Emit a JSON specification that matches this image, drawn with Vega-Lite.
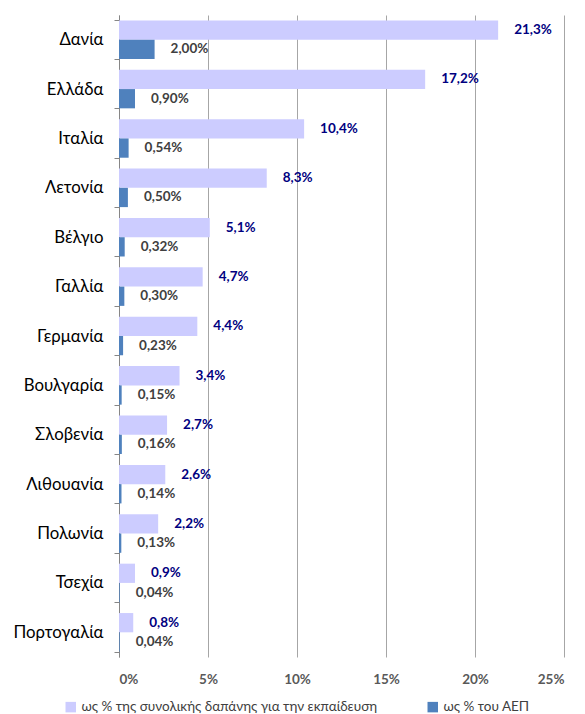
{
  "$schema": "https://vega.github.io/schema/vega-lite/v6.json",
  "width": 445,
  "height": 642,
  "padding": {"left": 13, "top": 7, "right": 19, "bottom": 5},
  "background": "white",
  "config": {
    "font": "Lato",
    "view": {"stroke": null},
    "locale": {"number": {"decimal": ",", "thousands": ".", "grouping": [3], "currency": ["", " €"]}}
  },
  "data": {"values": [
    {"country": "Δανία", "series": "ως % της συνολικής δαπάνης για την εκπαίδευση", "value": 0.213},
    {"country": "Δανία", "series": "ως % του ΑΕΠ", "value": 0.020},
    {"country": "Ελλάδα", "series": "ως % της συνολικής δαπάνης για την εκπαίδευση", "value": 0.172},
    {"country": "Ελλάδα", "series": "ως % του ΑΕΠ", "value": 0.0090},
    {"country": "Ιταλία", "series": "ως % της συνολικής δαπάνης για την εκπαίδευση", "value": 0.104},
    {"country": "Ιταλία", "series": "ως % του ΑΕΠ", "value": 0.0054},
    {"country": "Λετονία", "series": "ως % της συνολικής δαπάνης για την εκπαίδευση", "value": 0.083},
    {"country": "Λετονία", "series": "ως % του ΑΕΠ", "value": 0.0050},
    {"country": "Βέλγιο", "series": "ως % της συνολικής δαπάνης για την εκπαίδευση", "value": 0.051},
    {"country": "Βέλγιο", "series": "ως % του ΑΕΠ", "value": 0.0032},
    {"country": "Γαλλία", "series": "ως % της συνολικής δαπάνης για την εκπαίδευση", "value": 0.047},
    {"country": "Γαλλία", "series": "ως % του ΑΕΠ", "value": 0.0030},
    {"country": "Γερμανία", "series": "ως % της συνολικής δαπάνης για την εκπαίδευση", "value": 0.044},
    {"country": "Γερμανία", "series": "ως % του ΑΕΠ", "value": 0.0023},
    {"country": "Βουλγαρία", "series": "ως % της συνολικής δαπάνης για την εκπαίδευση", "value": 0.034},
    {"country": "Βουλγαρία", "series": "ως % του ΑΕΠ", "value": 0.0015},
    {"country": "Σλοβενία", "series": "ως % της συνολικής δαπάνης για την εκπαίδευση", "value": 0.027},
    {"country": "Σλοβενία", "series": "ως % του ΑΕΠ", "value": 0.0016},
    {"country": "Λιθουανία", "series": "ως % της συνολικής δαπάνης για την εκπαίδευση", "value": 0.026},
    {"country": "Λιθουανία", "series": "ως % του ΑΕΠ", "value": 0.0014},
    {"country": "Πολωνία", "series": "ως % της συνολικής δαπάνης για την εκπαίδευση", "value": 0.022},
    {"country": "Πολωνία", "series": "ως % του ΑΕΠ", "value": 0.0013},
    {"country": "Τσεχία", "series": "ως % της συνολικής δαπάνης για την εκπαίδευση", "value": 0.009},
    {"country": "Τσεχία", "series": "ως % του ΑΕΠ", "value": 0.0004},
    {"country": "Πορτογαλία", "series": "ως % της συνολικής δαπάνης για την εκπαίδευση", "value": 0.008},
    {"country": "Πορτογαλία", "series": "ως % του ΑΕΠ", "value": 0.0004}
  ]},
  "encoding": {
    "y": {
      "field": "country", "type": "nominal", "sort": null,
      "scale": {"paddingInner": 0.22, "paddingOuter": 0.11},
      "axis": {
        "title": null, "labelFontSize": 16.8, "labelColor": "#000000", "labelPadding": 11,
        "domainColor": "#868686", "tickColor": "#868686", "tickSize": 5, "bandPosition": 0,
        "tickBand": "extent", "labelFont": "Lato"
      }
    },
    "yOffset": {"field": "series", "type": "nominal", "sort": ["ως % της συνολικής δαπάνης για την εκπαίδευση", "ως % του ΑΕΠ"], "scale": {"paddingInner": 0}},
    "x": {
      "field": "value", "type": "quantitative",
      "scale": {"domain": [0, 0.25], "nice": false},
      "axis": {
        "title": null, "values": [0, 0.05, 0.1, 0.15, 0.2, 0.25], "format": ".0%",
        "grid": true, "gridColor": "#A6A6A6", "domain": false, "ticks": false,
        "labelPadding": 15, "labelFontSize": 13.5, "labelFontWeight": "bold", "labelColor": "#595959"
      }
    }
  },
  "layer": [
    {
      "mark": {"type": "bar"},
      "encoding": {
        "color": {
          "field": "series", "type": "nominal",
          "sort": ["ως % της συνολικής δαπάνης για την εκπαίδευση", "ως % του ΑΕΠ"],
          "scale": {"range": ["#CCCCFF", "#4F81BD"]},
          "legend": {
            "title": null, "orient": "none", "legendX": -55, "legendY": 685,
            "direction": "horizontal", "symbolType": "square",
            "symbolSize": 110, "symbolStrokeWidth": 0, "labelFontSize": 13.5, "labelColor": "#404040",
            "labelLimit": 400, "columnPadding": 48, "labelOffset": 4
          }
        }
      }
    },
    {
      "transform": [{"filter": "datum.series == 'ως % της συνολικής δαπάνης για την εκπαίδευση'"}],
      "mark": {"type": "text", "align": "left", "dx": 16, "fontSize": 13.5, "fontWeight": "bold", "color": "#000080"},
      "encoding": {"text": {"field": "value", "type": "quantitative", "format": ".1%"}}
    },
    {
      "transform": [{"filter": "datum.series == 'ως % του ΑΕΠ'"}],
      "mark": {"type": "text", "align": "left", "dx": 16, "fontSize": 13.5, "fontWeight": "bold", "color": "#404040"},
      "encoding": {"text": {"field": "value", "type": "quantitative", "format": ".2%"}}
    }
  ]
}
